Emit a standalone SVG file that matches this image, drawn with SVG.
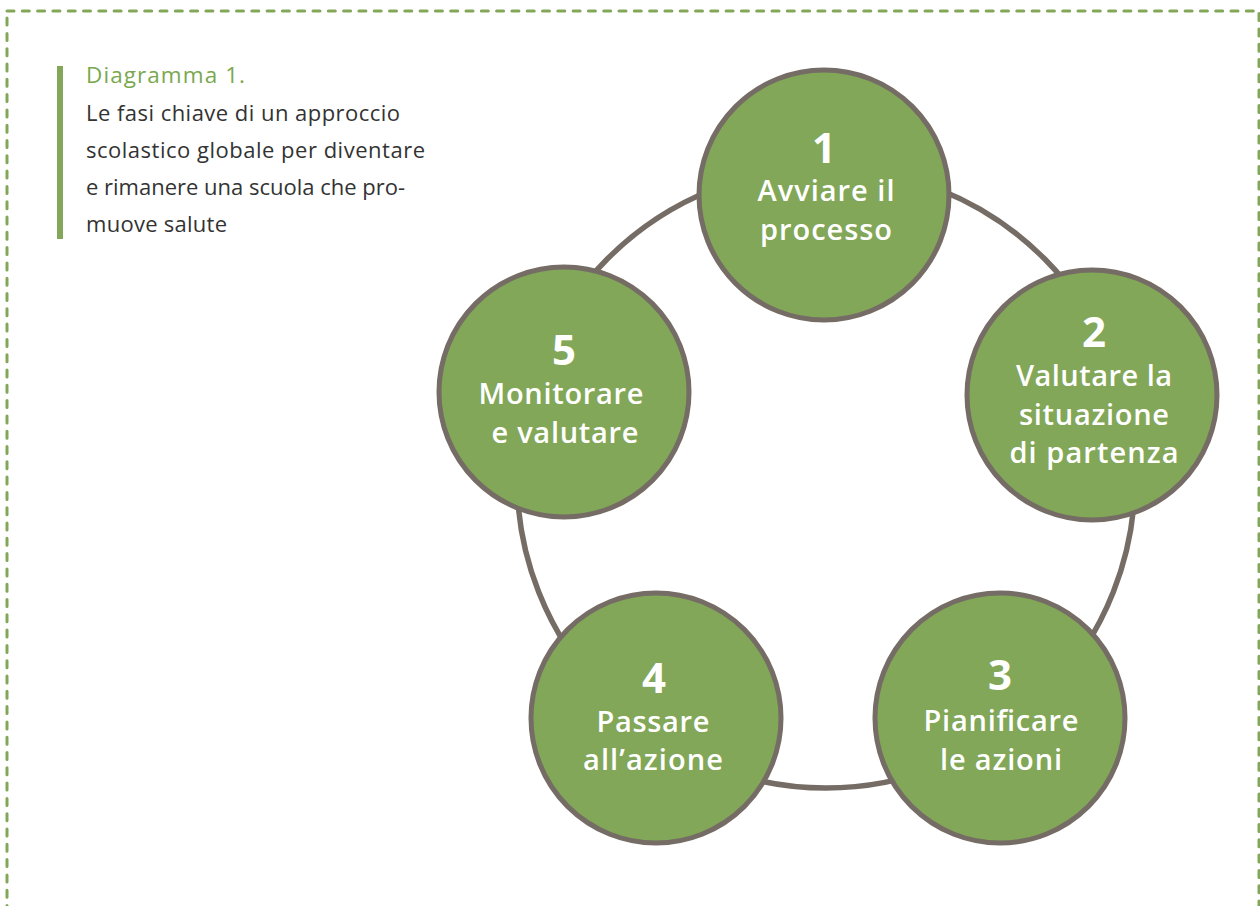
<svg xmlns="http://www.w3.org/2000/svg" width="1260" height="906" viewBox="0 0 1260 906">
<style>
.frame{fill:none;stroke:#82a758;stroke-width:3;stroke-dasharray:7 8.3;stroke-linecap:round}
.ring{fill:none;stroke:#756c66;stroke-width:5.5}
.node{fill:#82a758;stroke:#756c66;stroke-width:5}
.num{font-family:"Open Sans","Liberation Sans",sans-serif;font-weight:700;font-size:42px;fill:#fff;text-anchor:middle}
.lbl{font-family:"Open Sans","Liberation Sans",sans-serif;font-weight:600;font-size:29px;fill:#fff;text-anchor:middle}
.cap{font-family:"Open Sans","Liberation Sans",sans-serif;font-size:22px;fill:#333}
.ttl{font-family:"Open Sans","Liberation Sans",sans-serif;font-size:22.5px;fill:#7aa84f}
</style>
<rect width="1260" height="906" fill="#fff"/>
<rect class="frame" x="7" y="11" width="1252" height="920"/>
<g id="caption">
<rect x="57" y="66" width="6" height="173" fill="#82a758"/>
<text class="ttl" x="86" y="83" textLength="159">Diagramma 1.</text>
<text class="cap" x="86" y="121" textLength="314">Le fasi chiave di un approccio</text>
<text class="cap" x="86" y="158" textLength="339">scolastico globale per diventare</text>
<text class="cap" x="86" y="195" textLength="319">e rimanere una scuola che pro-</text>
<text class="cap" x="86" y="232" textLength="141">muove salute</text>
</g>
<g id="connectors">
<ellipse class="ring" cx="826" cy="478" rx="309" ry="310"/>
</g>
<g id="node1">
<circle class="node" cx="824" cy="195" r="125"/>
<text class="num" x="824" y="163">1</text>
<text class="lbl" x="826" y="201" textLength="137">Avviare il</text>
<text class="lbl" x="826" y="240" textLength="132">processo</text>
</g>
<g id="node2">
<circle class="node" cx="1092" cy="395" r="125"/>
<text class="num" x="1094" y="347">2</text>
<text class="lbl" x="1094" y="386" textLength="156">Valutare la</text>
<text class="lbl" x="1094" y="425" textLength="150">situazione</text>
<text class="lbl" x="1094" y="463" textLength="169">di partenza</text>
</g>
<g id="node3">
<circle class="node" cx="1000" cy="718" r="125"/>
<text class="num" x="1000" y="690">3</text>
<text class="lbl" x="1001" y="731" textLength="155">Pianificare</text>
<text class="lbl" x="1001" y="770" textLength="122">le azioni</text>
</g>
<g id="node4">
<circle class="node" cx="656" cy="718" r="125"/>
<text class="num" x="654" y="693">4</text>
<text class="lbl" x="653" y="732" textLength="113">Passare</text>
<text class="lbl" x="653" y="770" textLength="140">all’azione</text>
</g>
<g id="node5">
<circle class="node" cx="564" cy="392" r="125"/>
<text class="num" x="564" y="365">5</text>
<text class="lbl" x="561" y="404" textLength="165">Monitorare</text>
<text class="lbl" x="565" y="443" textLength="147">e valutare</text>
</g>
</svg>
